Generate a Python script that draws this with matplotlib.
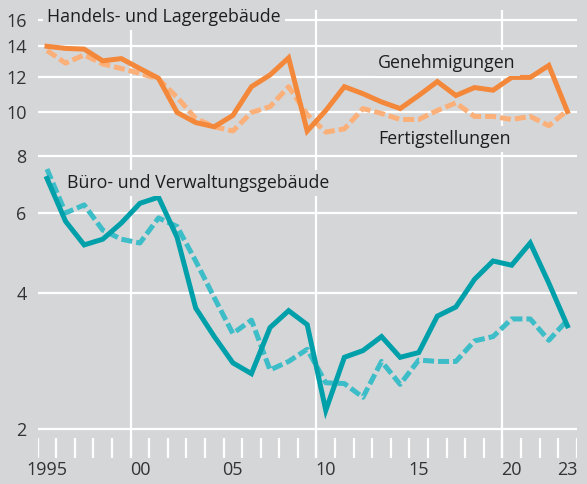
import matplotlib
matplotlib.use("Agg")
import matplotlib.pyplot as plt
from matplotlib.ticker import NullLocator, NullFormatter, FixedLocator

years = list(range(1995, 2024))

# Handels- und Lagergebäude (Mio m²), log scale
handel_genehmigungen = [14.0, 13.85, 13.8, 13.0, 13.15, 12.5, 11.9, 10.0, 9.5, 9.3,
                        9.85, 11.4, 12.1, 13.2, 9.1, 10.1, 11.4, 11.0, 10.55, 10.2,
                        10.9, 11.7, 10.9, 11.35, 11.2, 11.95, 11.95, 12.7, 10.05]
handel_fertigstellungen = [13.7, 12.85, 13.4, 12.8, 12.5, 12.2, 11.85, 10.8, 9.7, 9.3,
                           9.1, 10.0, 10.3, 11.4, 9.9, 9.05, 9.2, 10.2, 9.95, 9.65,
                           9.65, 10.1, 10.5, 9.8, 9.8, 9.65, 9.8, 9.35, 10.1]

# Büro- und Verwaltungsgebäude
buero_genehmigungen = [7.15, 5.75, 5.1, 5.25, 5.7, 6.3, 6.5, 5.3, 3.7, 3.2,
                       2.8, 2.65, 3.35, 3.65, 3.4, 2.2, 2.88, 2.98, 3.2, 2.88,
                       2.95, 3.55, 3.72, 4.28, 4.7, 4.6, 5.15, 4.2, 3.38]
buero_fertigstellungen = [7.5, 6.0, 6.25, 5.5, 5.25, 5.15, 5.85, 5.6, 4.7, 3.9,
                          3.25, 3.48, 2.7, 2.82, 3.0, 2.53, 2.52, 2.35, 2.82, 2.51,
                          2.84, 2.82, 2.82, 3.13, 3.2, 3.5, 3.5, 3.14, 3.48]

yticks = [2, 4, 6, 8, 10, 12, 14, 16]
xtick_pos = [1995, 2000, 2005, 2010, 2015, 2020, 2023]
xtick_labels = ["1995", "00", "05", "10", "15", "20", "23"]

BG = "#d5d6d8"
ORANGE = "#f4883a"
ORANGE_L = "#fbb07a"
TEAL = "#00a0aa"
TEAL_L = "#3dbdc7"
TXT = "#1e1e1e"

plt.rcParams['font.family'] = ['Open Sans', 'DejaVu Sans']

fig = plt.figure(figsize=(5.87, 4.84), dpi=100, facecolor=BG)
ax = fig.add_axes([37.7 / 587, 26 / 484, 539 / 587, 453 / 484])
ax.set_facecolor(BG)
ax.set_yscale('log')
ylo, yhi = 1.726, 17.27
ax.set_ylim(ylo, yhi)
ax.set_xlim(1994.5, 2023.5)
for s in ax.spines.values():
    s.set_visible(False)

# horizontal gridlines
for v in yticks:
    ax.axhline(v, color="white", lw=1.6, zorder=1)
# vertical gridlines at decade boundaries
for xv in [1999.5, 2009.5, 2019.5]:
    ax.vlines(xv, ylo, 16.84, color="white", lw=1.6, zorder=1)
# white year tick marks at bottom
bound = [y - 0.5 for y in years] + [years[-1] + 0.5]
ax.vlines(bound, ylo, 1.909, color="white", lw=1.6, zorder=1)

ax.yaxis.set_major_locator(FixedLocator(yticks))
ax.yaxis.set_minor_locator(NullLocator())
ax.yaxis.set_minor_formatter(NullFormatter())
ax.set_yticklabels([str(v) for v in yticks])
ax.set_xticks(xtick_pos)
ax.set_xticklabels(xtick_labels)
ax.tick_params(axis='both', length=0, labelsize=13, colors="#333333")
ax.tick_params(axis='y', pad=8)
ax.tick_params(axis='x', pad=2)

lw = 3.6
dash = (0, (2.2, 0.8))
ax.plot(years, handel_fertigstellungen, color=ORANGE_L, lw=lw, ls=dash,
        dash_capstyle='butt', zorder=3)
ax.plot(years, handel_genehmigungen, color=ORANGE, lw=lw, zorder=4,
        solid_joinstyle='miter')
ax.plot(years, buero_fertigstellungen, color=TEAL_L, lw=lw, ls=dash,
        dash_capstyle='butt', zorder=3)
ax.plot(years, buero_genehmigungen, color=TEAL, lw=lw, zorder=4,
        solid_joinstyle='miter')

bb = dict(facecolor=BG, edgecolor='none', pad=3)


def put(text, xpx, ypx):
    # position in figure pixels (from top-left), left aligned, centred vertically
    fig.text(xpx / 587, 1 - ypx / 484, text, ha='left', va='center',
             fontsize=12.8, color=TXT, bbox=bb, zorder=5)


put("Handels- und Lagergebäude", 47, 17)
put("Genehmigungen", 378, 63)
put("Fertigstellungen", 378, 139)
put("Büro- und Verwaltungsgebäude", 67, 183)

fig.savefig("out.png", dpi=100, facecolor=BG)
